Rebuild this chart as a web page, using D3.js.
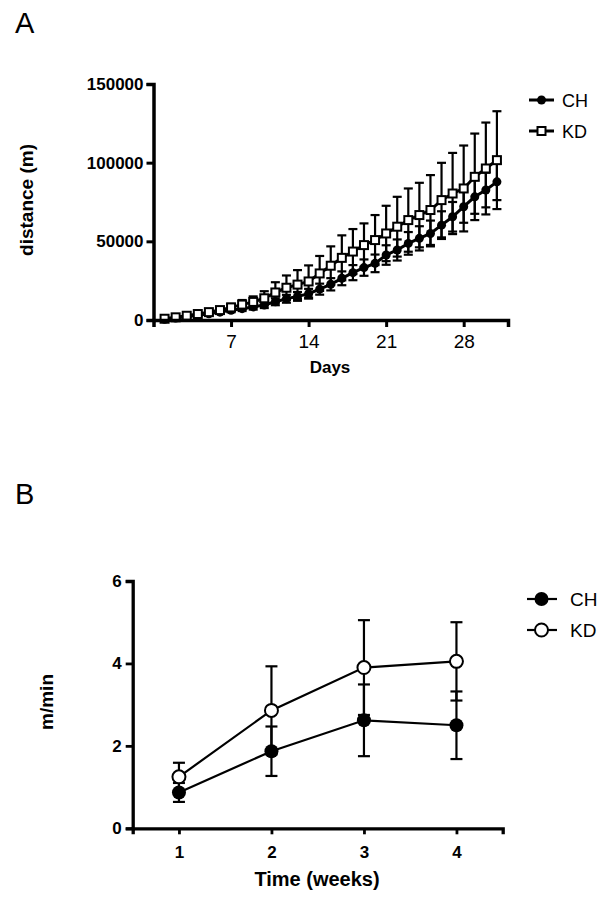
<!DOCTYPE html>
<html>
<head>
<meta charset="utf-8">
<script src="https://cdn.jsdelivr.net/npm/d3@7"></script>
<style>
  body { margin: 0; background: #fff; }
  svg { font-family: "Liberation Sans", Arial, sans-serif; }
</style>
</head>
<body>
<svg id="chart" width="612" height="903"></svg>
<script>
// panel A: cumulative distance per day
var days = d3.range(1, 32);
var chDist = [500, 1300, 2100, 3000, 4000, 5000, 6200, 7200, 8300, 9500, 11600, 13500, 15000, 16700, 19600,
  22700, 26500, 30100, 33300, 36000, 41300, 44500, 48700, 51900, 55000, 60300, 65600, 72000, 78300, 82600, 87800];
var chDistSd = [200, 400, 600, 800, 900, 1100, 1300, 1500, 1700, 1900, 2200, 2500, 2800, 3100, 3500,
  3900, 4400, 4800, 5200, 5600, 6200, 6700, 7200, 7700, 8200, 8800, 9400, 10200, 10800, 11000, 11600];
var kdDist = [800, 1700, 2700, 3800, 5000, 6300, 8000, 9800, 11500, 13800, 17500, 20500, 22500, 24500, 29600,
  34500, 39500, 43500, 47600, 50800, 55000, 59300, 63500, 66700, 69900, 76200, 80400, 83600, 91000, 96300, 101600];
var kdDistSd = [300, 500, 800, 1100, 1400, 1800, 2300, 2900, 3500, 4500, 6500, 7800, 9200, 10200, 11100,
  12300, 14300, 14300, 13800, 15900, 17600, 19000, 20100, 20500, 22200, 23700, 25800, 27300, 27500, 29200, 31100];
var dayTicks = [7, 14, 21, 28];
var distTicks = [0, 50000, 100000, 150000];

// panel B: speed per week
var weeks = [1, 2, 3, 4];
var chSpeed = [0.87, 1.87, 2.62, 2.5];
var chSpeedSd = [0.23, 0.6, 0.87, 0.82];
var kdSpeed = [1.25, 2.86, 3.9, 4.05];
var kdSpeedSd = [0.34, 1.07, 1.15, 0.95];
var speedTicks = [0, 2, 4, 6];

var groups = ["CH", "KD"];

var svg = d3.select("#chart");

function series(xs, ys, sds) {
  return xs.map(function (x, i) {
    return { x: x, y: ys[i], sd: sds[i] };
  });
}

function styleAxis(g, w) {
  g.select(".domain").attr("stroke", "#000").attr("stroke-width", w);
  g.selectAll(".tick line").attr("stroke", "#000").attr("stroke-width", w - 0.5);
  g.selectAll(".tick text").attr("fill", "#000");
}

function errorBars(g, data, x, y, capW, lw) {
  var e = g.append("g").attr("stroke", "#000").attr("stroke-width", lw);
  data.forEach(function (d) {
    var cx = x(d.x), top = y(d.y + d.sd), bot = y(d.y - d.sd);
    e.append("line").attr("x1", cx).attr("x2", cx).attr("y1", top).attr("y2", bot);
    e.append("line").attr("x1", cx - capW / 2).attr("x2", cx + capW / 2).attr("y1", top).attr("y2", top);
    e.append("line").attr("x1", cx - capW / 2).attr("x2", cx + capW / 2).attr("y1", bot).attr("y2", bot);
  });
}

// ---------- panel A ----------
svg.append("text").attr("x", 15).attr("y", 33).attr("font-size", 29).text("A");

var xA = d3.scaleLinear().domain([0, 32]).range([153.5, 508]);
var yA = d3.scaleLinear().domain([0, 150000]).range([320, 84]);

var gA = svg.append("g");
var chA = series(days, chDist, chDistSd);
var kdA = series(days, kdDist, kdDistSd);
var lineA = d3.line().x(function (d) { return xA(d.x); }).y(function (d) { return yA(d.y); });

errorBars(gA, chA, xA, yA, 9, 2.2);
errorBars(gA, kdA, xA, yA, 9, 2.2);
gA.append("path").datum(chA).attr("d", lineA).attr("fill", "none").attr("stroke", "#000").attr("stroke-width", 3);
gA.append("path").datum(kdA).attr("d", lineA).attr("fill", "none").attr("stroke", "#000").attr("stroke-width", 3);
gA.selectAll("circle.ch").data(chA).enter().append("circle")
  .attr("cx", function (d) { return xA(d.x); })
  .attr("cy", function (d) { return yA(d.y); })
  .attr("r", 4.5).attr("fill", "#000");
gA.selectAll("rect.kd").data(kdA).enter().append("rect")
  .attr("x", function (d) { return xA(d.x) - 4; })
  .attr("y", function (d) { return yA(d.y) - 4; })
  .attr("width", 8).attr("height", 8)
  .attr("fill", "#fff").attr("stroke", "#000").attr("stroke-width", 2);

var axAx = gA.append("g").attr("transform", "translate(0,320)")
  .call(d3.axisBottom(xA).tickValues(dayTicks).tickSize(7).tickPadding(8));
styleAxis(axAx, 3.5);
axAx.selectAll(".tick text").attr("font-size", 19);

var axAy = gA.append("g").attr("transform", "translate(153.5,0)")
  .call(d3.axisLeft(yA).tickValues(distTicks).tickFormat(d3.format("d")).tickSize(7).tickPadding(3));
styleAxis(axAy, 3.5);
axAy.selectAll(".tick text").attr("font-size", 17).attr("font-weight", "bold");

svg.append("text").attr("x", 330).attr("y", 373).attr("text-anchor", "middle")
  .attr("font-size", 17).attr("font-weight", "bold").text("Days");
svg.append("text").attr("transform", "translate(33,200) rotate(-90)").attr("text-anchor", "middle")
  .attr("font-size", 19).attr("font-weight", "bold").text("distance (m)");

// legend A
var legA = svg.append("g");
groups.forEach(function (name, i) {
  var ly = 100 + i * 31;
  legA.append("line").attr("x1", 529).attr("x2", 554).attr("y1", ly).attr("y2", ly)
    .attr("stroke", "#000").attr("stroke-width", 3);
  if (name === "CH") {
    legA.append("circle").attr("cx", 541.5).attr("cy", ly).attr("r", 4.5).attr("fill", "#000");
  } else {
    legA.append("rect").attr("x", 537.5).attr("y", ly - 4).attr("width", 8).attr("height", 8)
      .attr("fill", "#fff").attr("stroke", "#000").attr("stroke-width", 2);
  }
  legA.append("text").attr("x", 562).attr("y", ly + 7).attr("font-size", 18).text(name);
});

// ---------- panel B ----------
svg.append("text").attr("x", 15).attr("y", 504).attr("font-size", 29).text("B");

var xB = d3.scaleLinear().domain([0.5, 4.5]).range([132.7, 502.7]);
var yB = d3.scaleLinear().domain([0, 6]).range([828.3, 581]);

var gB = svg.append("g");
var chB = series(weeks, chSpeed, chSpeedSd);
var kdB = series(weeks, kdSpeed, kdSpeedSd);
var lineB = d3.line().x(function (d) { return xB(d.x); }).y(function (d) { return yB(d.y); });

errorBars(gB, chB, xB, yB, 12, 2.2);
errorBars(gB, kdB, xB, yB, 12, 2.2);
gB.append("path").datum(chB).attr("d", lineB).attr("fill", "none").attr("stroke", "#000").attr("stroke-width", 2.2);
gB.append("path").datum(kdB).attr("d", lineB).attr("fill", "none").attr("stroke", "#000").attr("stroke-width", 2.2);
gB.selectAll("circle.ch").data(chB).enter().append("circle")
  .attr("cx", function (d) { return xB(d.x); })
  .attr("cy", function (d) { return yB(d.y); })
  .attr("r", 7).attr("fill", "#000");
gB.selectAll("circle.kd").data(kdB).enter().append("circle")
  .attr("cx", function (d) { return xB(d.x); })
  .attr("cy", function (d) { return yB(d.y); })
  .attr("r", 6.5).attr("fill", "#fff").attr("stroke", "#000").attr("stroke-width", 2);

var axBx = gB.append("g").attr("transform", "translate(0,828.3)")
  .call(d3.axisBottom(xB).tickValues(weeks).tickFormat(d3.format("d")).tickSize(6).tickPadding(12));
styleAxis(axBx, 3.3);
axBx.selectAll(".tick text").attr("font-size", 17).attr("font-weight", "bold");

var axBy = gB.append("g").attr("transform", "translate(132.7,0)")
  .call(d3.axisLeft(yB).tickValues(speedTicks).tickFormat(d3.format("d")).tickSize(7).tickPadding(4));
styleAxis(axBy, 3.3);
axBy.selectAll(".tick text").attr("font-size", 17).attr("font-weight", "bold");

svg.append("text").attr("x", 317).attr("y", 886).attr("text-anchor", "middle")
  .attr("font-size", 20).attr("font-weight", "bold").text("Time (weeks)");
svg.append("text").attr("transform", "translate(53,702) rotate(-90)").attr("text-anchor", "middle")
  .attr("font-size", 19).attr("font-weight", "bold").text("m/min");

// legend B
var legB = svg.append("g");
groups.forEach(function (name, i) {
  var ly = 599 + i * 31;
  legB.append("line").attr("x1", 527).attr("x2", 557).attr("y1", ly).attr("y2", ly)
    .attr("stroke", "#000").attr("stroke-width", 2.2);
  if (name === "CH") {
    legB.append("circle").attr("cx", 541.5).attr("cy", ly).attr("r", 7).attr("fill", "#000");
  } else {
    legB.append("circle").attr("cx", 541.5).attr("cy", ly).attr("r", 6.5)
      .attr("fill", "#fff").attr("stroke", "#000").attr("stroke-width", 2);
  }
  legB.append("text").attr("x", 570).attr("y", ly + 7).attr("font-size", 19).text(name);
});
</script>
</body>
</html>
